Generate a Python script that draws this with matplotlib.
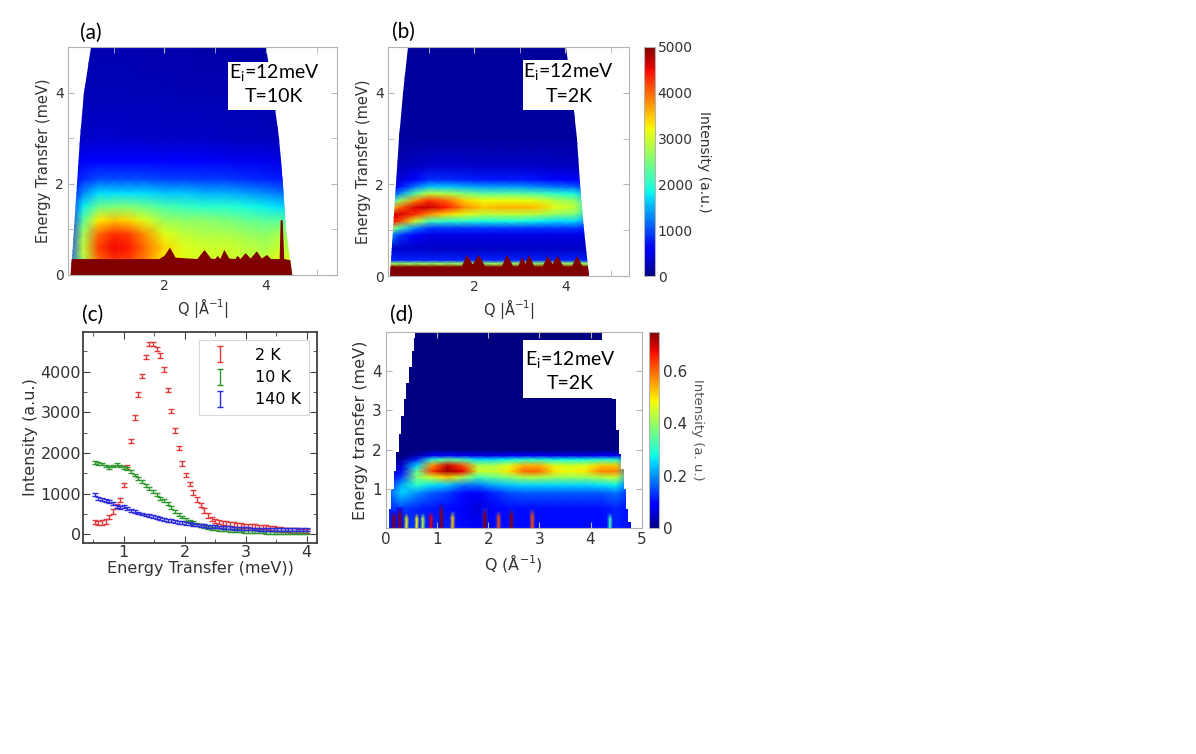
import numpy as np
import matplotlib.pyplot as plt
from matplotlib.patches import Polygon, Rectangle
from matplotlib.colors import Normalize
from matplotlib.ticker import MultipleLocator

plt.rcParams['font.family'] = 'DejaVu Sans'
plt.rcParams['mathtext.default'] = 'regular'

# ---------------- data ----------------
# detector coverage of (a) and (b): Q limits vs energy transfer
cov_E = [0, 1, 2, 3, 4, 5]
cov_left_Q = [0.15, 0.21, 0.27, 0.34, 0.42, 0.55]
cov_right_Q = [4.52, 4.40, 4.33, 4.25, 4.14, 4.01]

# (a) T=10K, coarse intensity table (rows = E, cols = Q)
a_Q = [0.1, 0.4, 0.7, 1.0, 1.3, 1.6, 2.0, 2.4, 2.8, 3.2, 3.6, 4.0, 4.3, 4.6]
a_E = [0.0, 0.35, 0.6, 0.9, 1.2, 1.5, 1.8, 2.1, 2.5, 3.0, 4.0, 5.0]
a_I = [
    [1000, 2800, 4000, 4300, 4200, 3900, 3300, 3100, 3000, 3000, 2900, 2900, 3200, 2800],
    [1000, 2800, 4000, 4300, 4200, 3900, 3300, 3100, 3000, 3000, 2900, 2900, 3200, 2800],
    [900, 2900, 4200, 4500, 4400, 4000, 3400, 3100, 3000, 3000, 2900, 2800, 3000, 2600],
    [800, 2700, 4000, 4300, 4200, 3800, 3100, 2900, 2800, 2800, 2700, 2600, 2800, 2400],
    [700, 2300, 3300, 3500, 3400, 3100, 2700, 2600, 2600, 2500, 2400, 2300, 2300, 2000],
    [650, 1800, 2400, 2500, 2500, 2400, 2200, 2100, 2000, 2000, 1900, 1800, 1700, 1500],
    [600, 1300, 1700, 1700, 1700, 1700, 1600, 1600, 1500, 1500, 1400, 1300, 1200, 1100],
    [500, 850, 1000, 1000, 1000, 1000, 950, 950, 900, 900, 850, 800, 750, 700],
    [400, 530, 600, 600, 600, 600, 560, 560, 540, 520, 500, 480, 460, 450],
    [300, 330, 340, 340, 330, 320, 310, 300, 300, 290, 280, 270, 270, 270],
    [230, 250, 250, 250, 245, 240, 235, 230, 225, 220, 215, 210, 210, 210],
    [200, 220, 220, 220, 215, 210, 205, 200, 195, 190, 185, 180, 180, 180],
]
# (a) top of the saturated elastic line
a_el_Q = [0.10, 1.90, 2.00, 2.11, 2.22, 2.65, 2.79, 2.92, 3.00, 3.05, 3.10, 3.18, 3.28,
          3.40, 3.44, 3.50, 3.60, 3.70, 3.82, 3.92, 4.02, 4.10, 4.27, 4.29, 4.33, 4.36, 4.60]
a_el_E = [0.35, 0.35, 0.42, 0.60, 0.38, 0.35, 0.55, 0.36, 0.35, 0.42, 0.35, 0.55, 0.36,
          0.35, 0.42, 0.35, 0.48, 0.36, 0.52, 0.36, 0.44, 0.35, 0.35, 1.20, 1.20, 0.35, 0.30]

# (b) T=2K, coarse intensity table
b_Q = [0.1, 0.35, 0.7, 1.0, 1.4, 1.8, 2.2, 2.6, 3.0, 3.4, 3.8, 4.2, 4.6]
b_E = [0.0, 0.2, 0.27, 0.35, 0.6, 0.9, 1.05, 1.2, 1.35, 1.5, 1.65, 1.8, 1.95, 2.1, 2.4, 3.0, 5.0]
b_I = [
    [5000, 5000, 5000, 5000, 5000, 5000, 5000, 5000, 5000, 5000, 5000, 5000, 5000],
    [5000, 5000, 5000, 5000, 5000, 5000, 5000, 5000, 5000, 5000, 5000, 5000, 5000],
    [2700, 2700, 2700, 2700, 2700, 2700, 2700, 2700, 2700, 2700, 2700, 2700, 2700],
    [800, 800, 800, 800, 800, 800, 800, 800, 800, 800, 800, 800, 800],
    [350, 330, 320, 300, 300, 300, 300, 300, 300, 300, 300, 300, 300],
    [1500, 900, 550, 450, 450, 450, 450, 450, 450, 450, 450, 450, 450],
    [3000, 2200, 1300, 900, 900, 900, 900, 900, 900, 900, 900, 900, 700],
    [4600, 4200, 3000, 2200, 2000, 2000, 1900, 1900, 1900, 1800, 1700, 1700, 1200],
    [4600, 4600, 4300, 3800, 3400, 3100, 2900, 2900, 2900, 2800, 2600, 2500, 1600],
    [3000, 4000, 4600, 4700, 4400, 3800, 3500, 3600, 3600, 3500, 3100, 2900, 1800],
    [1600, 2600, 3800, 4300, 4000, 3400, 3200, 3200, 3200, 3100, 2800, 2600, 1600],
    [800, 1300, 2300, 2900, 2800, 2500, 2300, 2300, 2300, 2200, 2000, 1900, 1100],
    [500, 700, 1200, 1600, 1600, 1500, 1400, 1400, 1400, 1300, 1200, 1100, 700],
    [350, 400, 650, 850, 850, 800, 750, 750, 750, 700, 650, 600, 400],
    [220, 250, 300, 350, 350, 350, 320, 320, 320, 320, 300, 280, 250],
    [150, 150, 150, 150, 150, 150, 150, 150, 150, 150, 150, 150, 150],
    [120, 120, 120, 120, 120, 120, 120, 120, 120, 120, 120, 120, 120],
]
b_el_Q = [0.10, 1.72, 1.84, 1.96, 2.10, 2.24, 2.60, 2.72, 2.86, 2.96, 3.05, 3.12, 3.20,
          3.32, 3.50, 3.61, 3.72, 3.83, 3.96, 4.14, 4.26, 4.38, 4.60]
b_el_E = [0.20, 0.20, 0.46, 0.25, 0.46, 0.20, 0.20, 0.46, 0.20, 0.20, 0.42, 0.26, 0.46,
          0.20, 0.20, 0.44, 0.26, 0.44, 0.20, 0.20, 0.44, 0.20, 0.20]

# (c) cuts: intensity vs energy transfer
cut_E = [0.52, 0.58, 0.64, 0.70, 0.76, 0.82, 0.88, 0.94, 1.00, 1.06, 1.12, 1.18, 1.24, 1.30,
         1.36, 1.42, 1.48, 1.54, 1.60, 1.66, 1.72, 1.78, 1.84, 1.90, 1.96, 2.02, 2.08, 2.14,
         2.20, 2.26, 2.32, 2.38, 2.44, 2.50, 2.56, 2.62, 2.68, 2.74, 2.80, 2.86, 2.92, 2.98,
         3.04, 3.10, 3.16, 3.22, 3.28, 3.34, 3.40, 3.46, 3.52, 3.58, 3.64, 3.70, 3.76, 3.82,
         3.88, 3.94, 4.00]
cut_2K = [300, 280, 290, 320, 420, 560, 700, 840, 1210, 1660, 2300, 2880, 3440, 3900,
          4370, 4680, 4680, 4560, 4400, 4060, 3550, 3040, 2560, 2120, 1740, 1460, 1240, 1030,
          860, 720, 580, 460, 380, 330, 300, 280, 260, 250, 240, 230, 220, 210,
          200, 200, 190, 185, 180, 175, 160, 140, 130, 120, 110, 100, 95, 90,
          85, 80, 75]
cut_10K = [1760, 1750, 1730, 1680, 1640, 1680, 1720, 1680, 1640, 1610, 1550, 1460, 1380, 1300,
           1210, 1130, 1050, 970, 890, 830, 760, 655, 560, 490, 425, 360, 315, 280,
           250, 215, 185, 165, 145, 135, 125, 115, 105, 100, 90, 85, 80, 75,
           70, 65, 62, 58, 55, 50, 48, 45, 42, 40, 40, 40, 40, 40,
           38, 38, 38]
cut_140K = [980, 890, 850, 830, 800, 750, 690, 660, 680, 630, 595, 560, 525, 500,
            475, 455, 435, 410, 395, 370, 345, 330, 310, 295, 280, 265, 255, 245,
            230, 220, 210, 200, 190, 185, 178, 170, 165, 158, 152, 145, 140, 137,
            134, 130, 128, 127, 126, 125, 123, 122, 121, 120, 119, 118, 117, 116,
            118, 119, 120]
cut_err = {'2 K': 55, '10 K': 35, '140 K': 35}
cut_colors = {'2 K': '#e03a3a', '10 K': '#2e982e', '140 K': '#2c2cd8'}

# (d) calculation, coarse table
d_Q = [0.0, 0.3, 0.6, 0.9, 1.2, 1.5, 1.8, 2.1, 2.4, 2.7, 3.0, 3.3, 3.6, 3.9, 4.2, 4.5, 4.8]
d_E = [0.0, 0.5, 0.9, 1.1, 1.3, 1.45, 1.6, 1.75, 1.85, 2.0, 5.0]
d_I = [
    [0.12, 0.14, 0.13, 0.12, 0.12, 0.10, 0.08, 0.10, 0.10, 0.10, 0.10, 0.10, 0.10, 0.10, 0.10, 0.12, 0.10],
    [0.12, 0.14, 0.12, 0.11, 0.10, 0.08, 0.06, 0.08, 0.10, 0.10, 0.10, 0.10, 0.10, 0.10, 0.10, 0.12, 0.10],
    [0.14, 0.25, 0.20, 0.16, 0.14, 0.10, 0.08, 0.12, 0.15, 0.16, 0.16, 0.16, 0.16, 0.16, 0.16, 0.18, 0.12],
    [0.10, 0.22, 0.30, 0.26, 0.24, 0.18, 0.18, 0.22, 0.24, 0.25, 0.25, 0.25, 0.25, 0.25, 0.26, 0.27, 0.15],
    [0.06, 0.14, 0.38, 0.45, 0.52, 0.42, 0.32, 0.35, 0.38, 0.42, 0.42, 0.40, 0.40, 0.40, 0.42, 0.44, 0.20],
    [0.04, 0.08, 0.35, 0.64, 0.73, 0.68, 0.45, 0.44, 0.50, 0.60, 0.60, 0.50, 0.48, 0.50, 0.58, 0.58, 0.22],
    [0.02, 0.05, 0.25, 0.56, 0.70, 0.62, 0.42, 0.42, 0.46, 0.54, 0.54, 0.46, 0.45, 0.46, 0.52, 0.52, 0.20],
    [0.00, 0.02, 0.12, 0.30, 0.35, 0.32, 0.26, 0.26, 0.28, 0.30, 0.30, 0.28, 0.28, 0.28, 0.30, 0.30, 0.12],
    [0.00, 0.00, 0.03, 0.08, 0.10, 0.08, 0.07, 0.07, 0.08, 0.08, 0.08, 0.07, 0.07, 0.07, 0.08, 0.08, 0.03],
    [0.00] * 17,
    [0.00] * 17,
]
# (d) elastic streaks: position, height and peak intensity
d_st_Q = [0.15, 0.27, 0.40, 0.60, 0.72, 0.88, 1.08, 1.30, 1.93, 2.20, 2.45, 2.86, 4.38]
d_st_top = [0.42, 0.52, 0.38, 0.38, 0.38, 0.42, 0.62, 0.42, 0.52, 0.42, 0.48, 0.48, 0.38]
d_st_val = [0.74, 0.74, 0.48, 0.48, 0.42, 0.68, 0.74, 0.52, 0.74, 0.62, 0.74, 0.62, 0.32]
d_st_bg = 0.11
# (d) stepped coverage edges (bin bottoms and Q limits)
d_left_E = [0.0, 0.5, 1.0, 1.45, 1.95, 2.4, 2.85, 3.3, 3.7, 4.1, 4.5, 4.85]
d_left_Q = [0.05, 0.10, 0.15, 0.20, 0.25, 0.30, 0.35, 0.40, 0.45, 0.50, 0.54, 0.57]
d_right_E = [0.0, 0.15, 0.5, 1.0, 1.5, 1.9, 2.5, 3.3, 4.75]
d_right_Q = [4.80, 4.74, 4.70, 4.66, 4.60, 4.55, 4.50, 4.42, 4.22]

# ---------------- helpers ----------------
cmap = plt.get_cmap('jet')
GRAY = '#b3b3b3'
TXT = '#333333'


def style_matlab(ax):
    for sp in ax.spines.values():
        sp.set_color(GRAY)
    ax.tick_params(which='both', direction='in', top=True, right=True, length=4,
                   color=GRAY, labelcolor=TXT, labelsize=10, pad=3)


def stairs(left_E, left_Q, right_E, right_Q, top):
    pts = []
    for i, q in enumerate(left_Q):
        e1 = left_E[i + 1] if i + 1 < len(left_E) else top
        pts += [(q, left_E[i]), (q, e1)]
    rpts = []
    for i, q in enumerate(right_Q):
        e1 = right_E[i + 1] if i + 1 < len(right_E) else top
        rpts += [(q, right_E[i]), (q, e1)]
    return pts + rpts[::-1]


def info_box(ax, x0, x1, y0, y1, lines, xc, ys):
    ax.add_patch(Rectangle((x0, y0), x1 - x0, y1 - y0, transform=ax.transAxes,
                           facecolor='white', edgecolor='none', zorder=5))
    for s, y in zip(lines, ys):
        ax.text(xc, y, s, transform=ax.transAxes, ha='center', va='center',
                fontsize=14, family='Lato', zorder=6)


def map_panel(ax, Q, E, I, el_Q, el_E, vmax):
    norm = Normalize(0, vmax)
    QQ, EE = np.meshgrid(Q, E)
    mesh = ax.pcolormesh(QQ, EE, np.array(I, float), cmap=cmap, norm=norm,
                         shading='gouraud', rasterized=True)
    cov = list(zip(cov_left_Q, cov_E)) + list(zip(cov_right_Q[::-1], cov_E[::-1]))
    mesh.set_clip_path(Polygon(cov, closed=True, transform=ax.transData))
    el = list(zip(el_Q, el_E)) + [(el_Q[-1], 0), (el_Q[0], 0)]
    elp = Polygon(el, closed=True, facecolor=cmap(1.0), edgecolor='none', zorder=2)
    ax.add_patch(elp)
    elp.set_clip_path(Polygon(cov, closed=True, transform=ax.transData))
    ax.set_xlim(0.1, 5.4)
    ax.set_ylim(0, 5)
    ax.set_xticks([2, 4])
    ax.set_xticks([1, 3, 5], minor=True)
    ax.set_yticks([0, 2, 4])
    ax.set_yticks([1, 3], minor=True)
    style_matlab(ax)
    ax.set_xlabel(r'Q |$\AA^{-1}$|', fontsize=10.5, color=TXT, labelpad=2)
    ax.set_ylabel('Energy Transfer (meV)', fontsize=10.5, color=TXT, labelpad=3)
    return mesh


W, H = 1196, 754
fig = plt.figure(figsize=(W / 100, H / 100), dpi=100)


def px_axes(l, r, t, b):
    return fig.add_axes([l / W, 1 - b / H, (r - l) / W, (b - t) / H])


# ---------------- (a) ----------------
ax_a = px_axes(68, 337, 47, 275)
map_panel(ax_a, a_Q, a_E, a_I, a_el_Q, a_el_E, 5000)
info_box(ax_a, 0.595, 0.937, 0.724, 0.934, [r'E$_\mathregular{i}$=12meV', 'T=10K'],
         0.766, [0.890, 0.785])

# ---------------- (b) ----------------
ax_b = px_axes(388, 629, 47, 276)
mesh_b = map_panel(ax_b, b_Q, b_E, b_I, b_el_Q, b_el_E, 5000)
info_box(ax_b, 0.562, 0.943, 0.725, 0.943, [r'E$_\mathregular{i}$=12meV', 'T=2K'],
         0.750, [0.891, 0.786])
cax_b = px_axes(644, 655, 47, 276)
cb_b = fig.colorbar(mesh_b, cax=cax_b, ticks=[0, 1000, 2000, 3000, 4000, 5000])
cb_b.outline.set_edgecolor(GRAY)
cax_b.tick_params(length=0, labelsize=10, labelcolor=TXT, pad=2)
cb_b.set_label('Intensity (a.u.)', rotation=270, fontsize=10, color=TXT, labelpad=13)

# ---------------- (c) ----------------
ax_c = px_axes(83, 317, 332, 543)
for lab, ys in [('2 K', cut_2K), ('10 K', cut_10K), ('140 K', cut_140K)]:
    ax_c.errorbar(cut_E, ys, yerr=cut_err[lab], fmt='none', ecolor=cut_colors[lab],
                  elinewidth=1.0, capsize=2, capthick=1.0, label=lab)
ax_c.set_xlim(0.33, 4.17)
ax_c.set_ylim(-215, 4980)
ax_c.set_xticks([1, 2, 3, 4])
ax_c.set_yticks([0, 1000, 2000, 3000, 4000])
ax_c.xaxis.set_minor_locator(MultipleLocator(0.5))
ax_c.yaxis.set_minor_locator(MultipleLocator(500))
for sp in ax_c.spines.values():
    sp.set_color('#404040')
    sp.set_linewidth(1.3)
ax_c.tick_params(which='both', direction='in', top=True, right=True, color='#404040',
                 labelcolor=TXT, labelsize=11.5, pad=1.5)
ax_c.tick_params(which='major', length=5)
ax_c.tick_params(which='minor', length=3)
ax_c.set_xlabel('Energy Transfer (meV))', fontsize=11.5, color=TXT, labelpad=1)
ax_c.set_ylabel('Intensity (a.u.)', fontsize=11.5, color=TXT, labelpad=2)
leg = ax_c.legend(loc='upper right', fontsize=11.5, labelspacing=0.45,
                  handlelength=1.6, handletextpad=1.4, borderpad=0.5,
                  fancybox=False, edgecolor='#d0d0d0')
leg.get_frame().set_linewidth(0.8)

# ---------------- (d) ----------------
ax_d = px_axes(386, 641.7, 331.7, 528.3)
norm_d = Normalize(0, 0.75)
QQ, EE = np.meshgrid(d_Q, d_E)
mesh_d = ax_d.pcolormesh(QQ, EE, np.array(d_I, float), cmap=cmap, norm=norm_d,
                         shading='gouraud', rasterized=True)
edge = stairs(d_left_E, d_left_Q, d_right_E, d_right_Q, 5.0)
mesh_d.set_clip_path(Polygon(edge, closed=True, transform=ax_d.transData))
# streaks: small gouraud meshes that fade into the background
for q, top, v in zip(d_st_Q, d_st_top, d_st_val):
    sx = [[q - 0.055, q, q + 0.055]] * 3
    sy = [[0, 0, 0], [top * 0.7] * 3, [top] * 3]
    sc = [[d_st_bg, v, d_st_bg], [d_st_bg, v, d_st_bg], [d_st_bg] * 3]
    ax_d.pcolormesh(np.array(sx), np.array(sy), np.array(sc), cmap=cmap, norm=norm_d,
                    shading='gouraud', rasterized=True, zorder=2)
ax_d.set_xlim(0, 5)
ax_d.set_ylim(0, 5)
ax_d.set_xticks([0, 1, 2, 3, 4, 5])
ax_d.set_yticks([1, 2, 3, 4])
style_matlab(ax_d)
ax_d.tick_params(labelsize=11)
ax_d.set_xlabel(r'Q ($\AA^{-1}$)', fontsize=11.5, color=TXT, labelpad=3)
ax_d.set_ylabel('Energy transfer (meV)', fontsize=11.5, color=TXT, labelpad=3)
info_box(ax_d, 0.537, 0.922, 0.661, 0.958, [r'E$_\mathregular{i}$=12meV', 'T=2K'],
         0.72, [0.861, 0.737])
cax_d = px_axes(649.3, 659.3, 331.7, 528.3)
cb_d = fig.colorbar(mesh_d, cax=cax_d, ticks=[0, 0.2, 0.4, 0.6])
cb_d.outline.set_edgecolor(GRAY)
cax_d.set_yticklabels(['0', '0.2', '0.4', '0.6'])
cax_d.tick_params(length=0, labelsize=11, labelcolor=TXT, pad=3)
cb_d.set_label('Intensity (a. u.)', rotation=270, fontsize=9.5, color='#555555', labelpad=12)

# panel labels
for s, x, y in [('(a)', 80, 33), ('(b)', 392, 32), ('(c)', 82, 315), ('(d)', 390, 315)]:
    fig.text(x / W, 1 - y / H, s, fontsize=15, family='Lato', ha='left', va='center')

fig.savefig('out.png', dpi=100)
